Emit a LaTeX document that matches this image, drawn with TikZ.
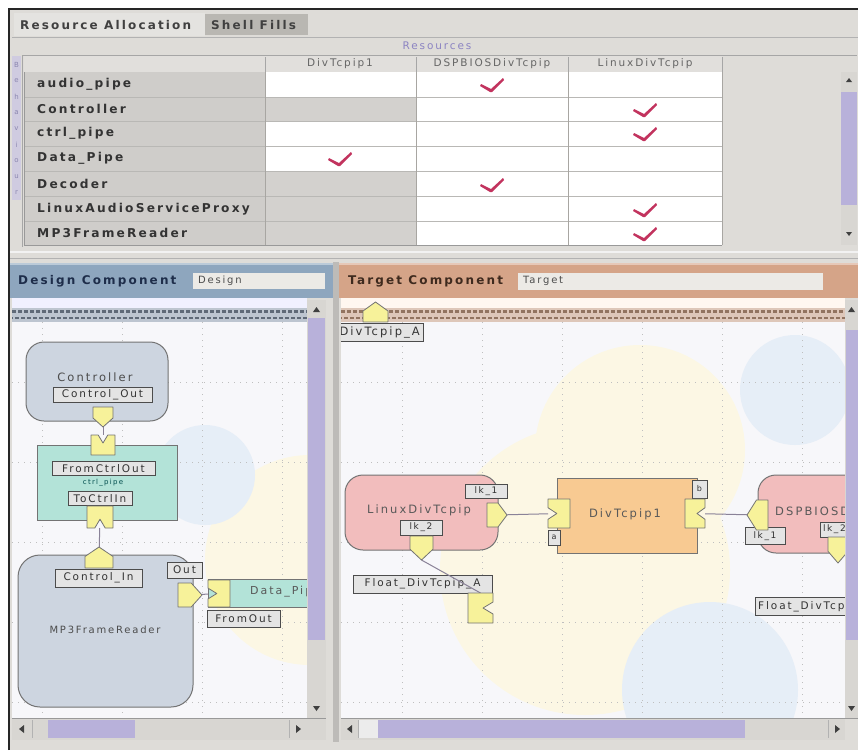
\documentclass[tikz,border=0pt]{standalone}
\usepackage{fontspec}
\setmainfont{DejaVu Sans}
\newfontfamily\gf[LetterSpace=18]{DejaVu Sans}
\usetikzlibrary{calc}
\newcommand\fsz[1]{\fontsize{#1}{#1}\selectfont}
\definecolor{winbg}{HTML}{DEDCD8}
\definecolor{tabdark}{HTML}{B9B7B2}
\definecolor{namecell}{HTML}{CFCDCA}
\definecolor{greycell}{HTML}{D3D1CE}
\definecolor{gridln}{HTML}{A8A6A2}
\definecolor{chkred}{HTML}{C2335E}
\definecolor{resc}{HTML}{8C84C2}
\definecolor{scrollp}{HTML}{B8B1DA}
\definecolor{scrolltr}{HTML}{D8D6D2}
\definecolor{dhead}{HTML}{8EA6BE}
\definecolor{druler}{HTML}{8796AA}
\definecolor{thead}{HTML}{D5A488}
\definecolor{truler}{HTML}{C39A80}
\definecolor{canvasbg}{HTML}{F7F7FA}
\definecolor{bluenode}{HTML}{CDD5E0}
\definecolor{tealnode}{HTML}{B3E3D8}
\definecolor{pinknode}{HTML}{F2BDBD}
\definecolor{orangenode}{HTML}{F8CA92}
\definecolor{portyel}{HTML}{F7F29A}
\definecolor{lblfill}{HTML}{E4E4E4}
\definecolor{connc}{HTML}{8A8298}
\definecolor{txtdark}{HTML}{333333}
\definecolor{navy}{HTML}{1E2D4A}
\definecolor{brownt}{HTML}{3E2A1E}
\definecolor{blobyel}{HTML}{FCF7E4}
\definecolor{blobblue}{HTML}{E6EEF7}
\definecolor{stripc}{HTML}{CFCBE0}
\definecolor{stript}{HTML}{8B86B0}
\definecolor{fieldc}{HTML}{ECEAE6}

\newcommand\pDown[1]{\filldraw[port] (#1.north west) -- (#1.north east) -- ($(#1.north east)!0.55!(#1.south east)$) -- (#1.south) -- ($(#1.north west)!0.55!(#1.south west)$) -- cycle;}
\newcommand\pUp[1]{\filldraw[port] (#1.south west) -- (#1.south east) -- ($(#1.south east)!0.55!(#1.north east)$) -- (#1.north) -- ($(#1.south west)!0.55!(#1.north west)$) -- cycle;}
\newcommand\pRight[1]{\filldraw[port] (#1.north west) -- ($(#1.north west)!0.55!(#1.north east)$) -- (#1.east) -- ($(#1.south west)!0.55!(#1.south east)$) -- (#1.south west) -- cycle;}
\newcommand\pLeft[1]{\filldraw[port] (#1.north east) -- ($(#1.north east)!0.55!(#1.north west)$) -- (#1.west) -- ($(#1.south east)!0.55!(#1.south west)$) -- (#1.south east) -- cycle;}
\newcommand\nTop[1]{\filldraw[port] (#1.north west) -- ($(#1.north west)!0.3!(#1.north east)$) -- ($(#1.north)!0.4!(#1.south)$) -- ($(#1.north west)!0.7!(#1.north east)$) -- (#1.north east) -- (#1.south east) -- (#1.south west) -- cycle;}
\newcommand\nBottom[1]{\filldraw[port] (#1.south west) -- ($(#1.south west)!0.3!(#1.south east)$) -- ($(#1.south)!0.4!(#1.north)$) -- ($(#1.south west)!0.7!(#1.south east)$) -- (#1.south east) -- (#1.north east) -- (#1.north west) -- cycle;}
\newcommand\nLeft[1]{\filldraw[port] (#1.north west) -- (#1.north east) -- (#1.south east) -- (#1.south west) -- ($(#1.south west)!0.3!(#1.north west)$) -- ($(#1.west)!0.4!(#1.east)$) -- ($(#1.south west)!0.7!(#1.north west)$) -- cycle;}
\newcommand\nRight[1]{\filldraw[port] (#1.north east) -- (#1.north west) -- (#1.south west) -- (#1.south east) -- ($(#1.south east)!0.3!(#1.north east)$) -- ($(#1.east)!0.4!(#1.west)$) -- ($(#1.south east)!0.7!(#1.north east)$) -- cycle;}

\tikzset{
  tblname/.style={font=\gf\bfseries\fsz{12.2}, text=txtdark, anchor=west, inner sep=0pt},
  hdrtxt/.style={font=\gf\fsz{10.5}, text=black!60, inner sep=0pt},
  tabtxt/.style={font=\gf\bfseries\fsz{12}, text=black!75, anchor=west, inner sep=0pt},
  headtxt/.style={font=\gf\bfseries\fsz{12}, anchor=west, inner sep=0pt},
  fieldtxt/.style={font=\gf\fsz{10}, text=black!70, anchor=west, inner sep=0pt},
  ntext/.style={font=\gf\fsz{11.5}, text=black!70, inner sep=0pt},
  lbl/.style={draw=black!70, line width=1pt, fill=lblfill, font=\gf\fsz{10.5}, text=black!80, inner sep=0pt, minimum height=15pt},
  portn/.style={inner sep=0pt, outer sep=0pt},
  port/.style={fill=portyel, draw=black!55, line width=0.8pt, line join=round},
  conn/.style={draw=connc, line width=1pt},
  blueN/.style={draw=black!55, line width=1pt, fill=bluenode, rounded corners=18pt, inner sep=0pt},
  tealN/.style={draw=black!55, line width=1pt, fill=tealnode, inner sep=0pt},
  pinkN/.style={draw=black!55, line width=1pt, fill=pinknode, rounded corners=18pt, inner sep=0pt},
  orangeN/.style={draw=black!55, line width=1pt, fill=orangenode, inner sep=0pt},
  gridl/.style={draw=black!25, line width=0.8pt, dash pattern=on 1pt off 5pt},
  chk/.pic={\fill[chkred] (-11,-2) -- (-1,3) -- (11,-8) -- (12,-6) -- (0,6) -- (-2,6) -- (-12,0) -- cycle;},
  sarrow/.style={fill=black!75}
}

\begin{document}
\begin{tikzpicture}[x=1pt,y=-1pt]
\useasboundingbox (0,0) rectangle (858,750);
\fill[white] (0,0) rectangle (858,750);
\fill[winbg] (8,8) rectangle (858,750);
\draw[line width=2pt, black!85] (9,750) -- (9,9) -- (858,9);

% tabs
\fill[winbg!80!white] (14,13) rectangle (205,36);
\fill[tabdark] (205,14) rectangle (308,35);
\node[tabtxt] (tab1) at (20,25) {Resource Allocation};
\node[tabtxt] (tab2) at (211,25) {Shell Fills};
\draw[black!30] (12,37) -- (858,37);

% Resources label
\node[font=\gf\fsz{10.5}, text=resc, inner sep=0pt] (res) at (437,46) {Resources};

% table frame
\fill[winbg] (22,55) rectangle (857,247);
\draw[black!35] (22,247) -- (22,55) -- (857,55);
% left vertical strip
\fill[stripc] (12,56) rectangle (21,200);
\foreach \c [count=\k] in {B,e,h,a,v,i,o,u,r}
  \node[font=\fsz{7}, text=stript, inner sep=0pt] (strip\k) at (16.5,49+\k*16) {\c};

% header row
\fill[winbg!90!white] (24,56) rectangle (722,72);
\draw[black!45] (265,72) -- (722,72);
\foreach \cx in {265,416,568,722} \draw[black!35] (\cx,57) -- (\cx,72);
\node[hdrtxt] (h1) at (340,64) {DivTcpip1};
\node[hdrtxt] (h2) at (492,64) {DSPBIOSDivTcpip};
\node[hdrtxt] (h3) at (645,64) {LinuxDivTcpip};

% rows
\foreach \nm/\yc/\cc [count=\i] in {audio\_pipe/84.5/white, Controller/109/greycell, ctrl\_pipe/133.5/white, Data\_Pipe/158.5/white, Decoder/184/greycell, LinuxAudioServiceProxy/209/greycell, MP3FrameReader/233/greycell}{
  \fill[namecell] (24,\yc-12.3) rectangle (265,\yc+12.3);
  \fill[\cc] (265,\yc-12.3) rectangle (416,\yc+12.3);
  \fill[white] (416,\yc-12.3) rectangle (722,\yc+12.3);
  \node[tblname] (row\i) at (37,\yc) {\nm};
}
\foreach \ry in {96.8,121.3,145.8,170.8,196.3,221.3}
  \draw[gridln!80!white] (24,\ry) -- (722,\ry);
\foreach \cx in {265,416,568,722} \draw[gridln] (\cx,72) -- (\cx,245);
\draw[black!40] (24,72) -- (24,245) -- (722,245);

% checks
\pic at (492,86) {chk};
\pic at (645,111) {chk};
\pic at (645,135) {chk};
\pic at (340,160) {chk};
\pic at (492,186) {chk};
\pic at (645,211) {chk};
\pic at (645,235) {chk};

% table scrollbar
\fill[scrolltr] (841,72) rectangle (857,245);
\fill[scrollp] (841,92) rectangle (857,205);
\fill[sarrow] (846,82) -- (852,82) -- (849,78) -- cycle;
\fill[sarrow] (846,232) -- (852,232) -- (849,236) -- cycle;

% separator
\draw[white!90!gray, line width=2pt] (10,252) -- (858,252);
\draw[black!30] (10,258) -- (858,258);

%================ LEFT PANEL ================
\fill[winbg] (10,262) rectangle (333,742);
\fill[dhead] (10,263) rectangle (333,298);
\fill[dhead!60!white] (10,263) rectangle (333,265);
\node[headtxt, text=navy] (dct) at (18,281) {Design Component};
\fill[fieldc] (193,273) rectangle (325,289);
\node[fieldtxt] (dfield) at (198,281) {Design};

\begin{scope}
\clip (12,298) rectangle (307,718);
\fill[white!94!blue] (12,298) rectangle (307,308);
\fill[canvasbg] (12,322) rectangle (307,718);
\fill[blobyel] (310,560) circle (105);
\fill[blobblue] (205,475) circle (50);
\foreach \gx in {42,122,202,282} \draw[gridl] (\gx,322) -- (\gx,718);
\foreach \gy in {382,462,542,622,702} \draw[gridl] (12,\gy) -- (307,\gy);
\fill[druler!55!white] (12,308) rectangle (307,322);
\draw[druler!70!black, line width=3pt, dash pattern=on 4pt off 2pt] (12,311.5) -- (307,311.5);
\draw[druler!70!black, line width=2pt, dash pattern=on 4pt off 2pt, dash phase=3pt] (12,317.5) -- (307,317.5);

% Controller
\node[blueN, minimum width=142pt, minimum height=79pt] (ctrl) at (97,381.5) {};
\node[ntext] (ctrlT) at (95,377) {Controller};
\node[lbl, minimum width=99pt] (ctrlout) at (102.5,395) {Control\_Out};
\node[portn, minimum width=20pt, minimum height=20pt] (pco) at (103,417) {};
% Teal box
\node[tealN, minimum width=140pt, minimum height=75pt] (fcb) at (107,482.5) {};
\node[portn, minimum width=24pt, minimum height=20pt] (pfi) at (103,445) {};
\node[lbl, minimum width=103pt, minimum height=14pt] (fromctrl) at (103.5,468.5) {FromCtrlOut};
\node[font=\gf\fsz{7}, text=teal!60!black, inner sep=0pt] (cpipe) at (103,483) {ctrl\_pipe};
\node[lbl, minimum width=64pt, minimum height=14pt] (toctrl) at (100,498.5) {ToCtrlIn};
\node[portn, minimum width=26pt, minimum height=22pt] (pto) at (100,517) {};
% MP3FrameReader
\node[blueN, minimum width=175pt, minimum height=152pt, rounded corners=22pt] (mp3) at (105.5,631) {};
\node[portn, minimum width=28pt, minimum height=21pt] (pci) at (99,557.5) {};
\node[lbl, minimum width=87pt, minimum height=18pt] (ctrlin) at (98.5,578) {Control\_In};
\node[lbl, minimum width=35pt, minimum height=16pt] (outl) at (184.5,570) {Out};
\node[portn, minimum width=24pt, minimum height=24pt] (pout) at (190,595) {};
\node[font=\gf\fsz{10}, text=black!70, inner sep=0pt] (mp3T) at (105,630) {MP3FrameReader};
% Data_Pipe
\node[tealN, minimum width=124pt, minimum height=28pt] (dp) at (270,593) {};
\node[font=\gf\fsz{11}, text=black!65, anchor=west, inner sep=0pt] (dpT) at (250,592) {Data\_Pipe};
\node[portn, minimum width=22pt, minimum height=27pt] (pdin) at (219,593.5) {};
\node[lbl, minimum width=73pt, minimum height=17pt] (fromout) at (243.5,618.5) {FromOut};

\draw[conn] (pco) -- (pfi);
\draw[conn] (pto) -- (pci);
\draw[conn] (pout) -- (pdin);
\pDown{pco}
\nTop{pfi}
\nBottom{pto}
\pUp{pci}
\pRight{pout}
\nLeft{pdin}
\end{scope}

% left scrollbars
\fill[scrolltr] (307,300) rectangle (326,718);
\fill[scrollp] (308,318) rectangle (325,640);
\fill[sarrow] (313,312) -- (320,312) -- (316.5,307) -- cycle;
\fill[sarrow] (313,706) -- (320,706) -- (316.5,711) -- cycle;
\fill[scrolltr] (12,718) rectangle (326,740);
\fill[scrollp] (48,720) rectangle (135,738);
\draw[black!30] (32,720) -- (32,738) (289,720) -- (289,738);
\fill[sarrow] (24,725) -- (24,733) -- (19,729) -- cycle;
\fill[sarrow] (296,725) -- (296,733) -- (301,729) -- cycle;
\draw[black!40] (12,718) -- (326,718);

% divider
\fill[winbg!85!black] (333,262) rectangle (339,742);

%================ RIGHT PANEL ================
\fill[thead] (339,263) rectangle (858,298);
\fill[thead!60!white] (339,263) rectangle (858,265);
\node[headtxt, text=brownt] (tct) at (348,281) {Target Component};
\fill[fieldc] (518,273) rectangle (823,290);
\node[fieldtxt] (tfield) at (523,281) {Target};

\begin{scope}
\clip (341,298) rectangle (845,718);
\fill[white!94!orange] (341,298) rectangle (845,308);
\fill[canvasbg] (341,322) rectangle (845,718);
\fill[blobyel] (640,450) circle (105);
\fill[blobyel] (585,570) circle (145);
\fill[blobblue] (795,390) circle (55);
\fill[blobblue] (710,690) circle (88);
\foreach \gx in {402,482,562,642,722,802} \draw[gridl] (\gx,322) -- (\gx,718);
\foreach \gy in {382,462,542,622,702} \draw[gridl] (341,\gy) -- (845,\gy);
\fill[truler!55!white] (341,308) rectangle (845,322);
\draw[truler!75!black, line width=3pt, dash pattern=on 4pt off 2pt] (341,311.5) -- (845,311.5);
\draw[truler!75!black, line width=2pt, dash pattern=on 4pt off 2pt, dash phase=3pt] (341,317.5) -- (845,317.5);

% top floating port
\node[portn, minimum width=25pt, minimum height=20pt] (ptop) at (375.5,312) {};
\node[lbl, minimum width=105pt, minimum height=18pt] (vtA) at (370.5,332.5) {};
\node[font=\gf\fsz{11.5}, text=black!80, anchor=east, inner sep=0pt] (vtAT) at (420,332.5) {DivTcpip\_A};

% LinuxDivTcpip
\node[pinkN, minimum width=153pt, minimum height=75pt] (lin) at (421.5,512.5) {};
\node[ntext, text=black!65] (linT) at (419,510) {LinuxDivTcpip};
\node[lbl, minimum width=42pt, minimum height=14pt, font=\gf\fsz{9}] (lk1) at (486,491.5) {lk\_1};
\node[lbl, minimum width=42pt, minimum height=15pt, font=\gf\fsz{9}] (lk2) at (421,527.5) {lk\_2};
\node[portn, minimum width=20pt, minimum height=24pt] (plr) at (497,515) {};
\node[portn, minimum width=23pt, minimum height=24pt] (plb) at (421.5,548) {};
% DivTcpip1
\node[orangeN, minimum width=140pt, minimum height=75pt] (div) at (627,515.5) {};
\node[ntext, text=black!65] (divT) at (625,514) {DivTcpip1};
\node[portn, minimum width=22pt, minimum height=29pt] (pdl) at (559,513.5) {};
\node[portn, minimum width=20pt, minimum height=29pt] (pdr) at (695,513.5) {};
\node[lbl, minimum width=15pt, minimum height=18pt, font=\gf\fsz{8}] (bb) at (699.5,489) {b};
\node[lbl, minimum width=12pt, minimum height=15pt, font=\gf\fsz{8}] (ab) at (554,537.5) {a};
% DSPBIOSDivTcpip
\node[pinkN, minimum width=124pt, minimum height=78pt] (dsp) at (820,514) {};
\node[ntext, text=black!65, anchor=west] (dspT) at (775,512) {DSPBIOSDivTcpip};
\node[portn, minimum width=21pt, minimum height=30pt] (pdsl) at (757.5,515) {};
\node[lbl, minimum width=40pt, minimum height=17pt, font=\gf\fsz{9}] (dlk1) at (765,536) {lk\_1};
\node[lbl, minimum width=32pt, minimum height=15pt, font=\gf\fsz{9}, text width=26pt, align=left] (dlk2) at (836,529.5) {lk\_2};
\node[portn, minimum width=20pt, minimum height=26pt] (pdsb) at (838,550) {};
% floats
\node[lbl, minimum width=139pt, minimum height=18pt] (flA) at (422.5,584) {Float\_DivTcpip\_A};
\node[portn, minimum width=25pt, minimum height=30pt] (pfl) at (480.5,608) {};
\node[lbl, minimum width=92pt, minimum height=18pt, anchor=west] (flB) at (755,606.5) {};
\node[font=\gf\fsz{10.5}, text=black!80, anchor=west, inner sep=0pt] (flBT) at (758,606.5) {Float\_DivTcpip\_B};

\draw[conn] (plr) -- (pdl);
\draw[conn] (pdr) -- (pdsl);
\draw[conn] (plb.south) -- (pfl.north);
\pUp{ptop}
\pRight{plr}
\pDown{plb}
\nLeft{pdl}
\nRight{pdr}
\pLeft{pdsl}
\pDown{pdsb}
\nRight{pfl}
\end{scope}

% right scrollbars
\fill[scrolltr] (845,300) rectangle (858,718);
\fill[scrollp] (846,330) rectangle (858,640);
\fill[sarrow] (848,312) -- (855,312) -- (851.5,307) -- cycle;
\fill[sarrow] (848,706) -- (855,706) -- (851.5,711) -- cycle;
\fill[scrolltr] (341,718) rectangle (845,740);
\fill[white!85!gray] (358,720) rectangle (378,738);
\fill[scrollp] (378,720) rectangle (745,738);
\draw[black!30] (358,720) -- (358,738) (828,720) -- (828,738);
\fill[sarrow] (352,725) -- (352,733) -- (347,729) -- cycle;
\fill[sarrow] (835,725) -- (835,733) -- (840,729) -- cycle;
\draw[black!40] (341,718) -- (858,718);
\end{tikzpicture}
\end{document}
